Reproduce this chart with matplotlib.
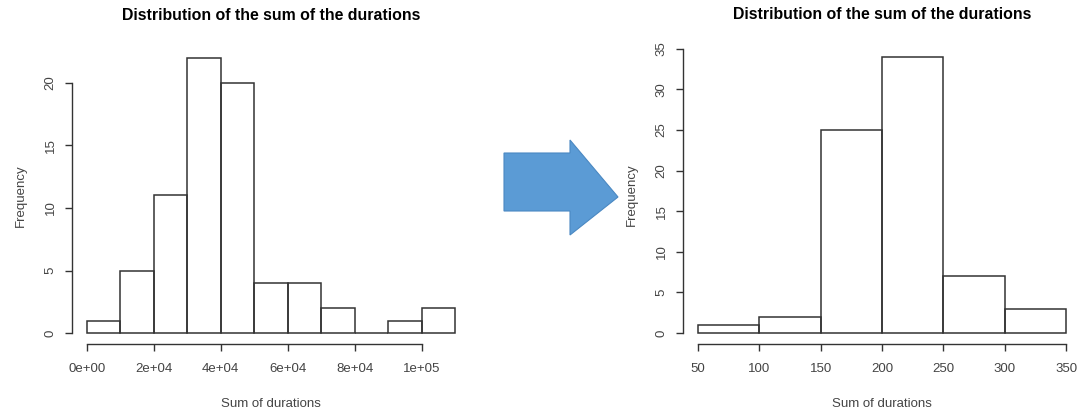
import matplotlib
matplotlib.use("Agg")
import matplotlib.pyplot as plt
import numpy as np
from matplotlib.patches import Polygon

plt.rcParams['font.family'] = ['Liberation Sans', 'DejaVu Sans']

# histogram of the raw sums (bin width 1e4)
raw_edges = np.arange(0, 110001, 10000)
raw_counts = [1, 5, 11, 22, 20, 4, 4, 2, 0, 1, 2]
raw_xticks = [0, 20000, 40000, 60000, 80000, 100000]
raw_xlabels = ['0e+00', '2e+04', '4e+04', '6e+04', '8e+04', '1e+05']
raw_yticks = [0, 5, 10, 15, 20]

# histogram after the transformation (bin width 50)
new_edges = np.arange(50, 351, 50)
new_counts = [1, 2, 25, 34, 7, 3]
new_xticks = [50, 100, 150, 200, 250, 300, 350]
new_yticks = [0, 5, 10, 15, 20, 25, 30, 35]

W, H = 1081, 411
ink = '#333333'
fig = plt.figure(figsize=(W / 100, H / 100), dpi=100)


def px_axes(x0, y0, x1, y1):
    # rectangle given in pixels from the top-left corner
    return fig.add_axes([x0 / W, 1 - y1 / H, (x1 - x0) / W, (y1 - y0) / H])


def r_hist(ax, edges, counts, xticks, xlabels, yticks, ybound):
    ax.bar(edges[:-1], counts, width=np.diff(edges), align='edge',
           fill=False, edgecolor=ink, linewidth=1.1)
    span = edges[-1] - edges[0]
    top = max(counts)
    ax.set_xlim(edges[0] - 0.04 * span, edges[-1] + 0.04 * span)
    ax.set_ylim(-0.04 * top, top * 1.04)
    for s in ('top', 'right'):
        ax.spines[s].set_visible(False)
    for s in ('left', 'bottom'):
        ax.spines[s].set_color(ink)
        ax.spines[s].set_linewidth(1.0)
    ax.spines['bottom'].set_bounds(xticks[0], xticks[-1])
    ax.spines['left'].set_bounds(yticks[0], ybound)
    ax.set_xticks(xticks)
    ax.set_xticklabels(xlabels)
    ax.set_yticks(yticks)
    ax.set_yticklabels([str(v) for v in yticks], rotation=90, va='center')
    ax.tick_params(colors=ink, labelcolor='#444444', labelsize=9.5,
                   length=5, width=1.0)
    ax.tick_params(axis='x', pad=9)
    ax.tick_params(axis='y', pad=6)
    ax.set_title('Distribution of the sum of the durations',
                 fontsize=11.4, fontweight='bold', pad=19.5)
    ax.set_xlabel('Sum of durations', fontsize=9.5, color='#444444', labelpad=16)
    ax.set_ylabel('Frequency', fontsize=9.5, color='#444444', labelpad=13)
    ax.patch.set_alpha(0)


ax1 = px_axes(72, 47, 470, 344)
r_hist(ax1, raw_edges, raw_counts, raw_xticks, raw_xlabels, raw_yticks, 20)

ax2 = px_axes(683, 46, 1081, 344)
r_hist(ax2, new_edges, new_counts, new_xticks,
       [str(v) for v in new_xticks], new_yticks, 35)
ax2.set_ylim(-1.36, 35.36)

# block arrow between the two panels
arrow_px = [(504, 153), (570, 153), (570, 140), (618, 197),
            (570, 235), (570, 211), (504, 211)]
arrow = Polygon([(x / W, 1 - y / H) for x, y in arrow_px], closed=True,
                transform=fig.transFigure, facecolor='#5B9BD5',
                edgecolor='#4A88C2', linewidth=0.8)
fig.patches.append(arrow)

fig.savefig('out.png', dpi=100, facecolor='white')
